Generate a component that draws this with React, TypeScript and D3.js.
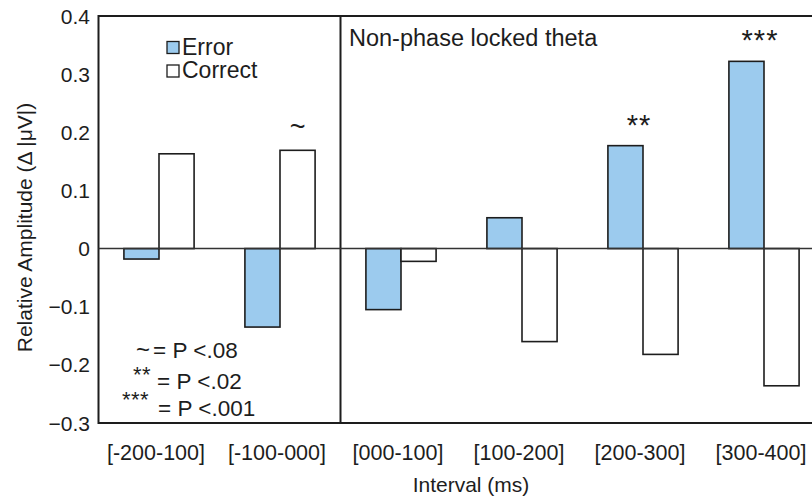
import React from 'react'
import * as d3 from 'd3'

const intervals = ['[-200-100]', '[-100-000]', '[000-100]', '[100-200]', '[200-300]', '[300-400]']
const errorVals = [-0.018, -0.135, -0.105, 0.053, 0.177, 0.322]
const correctVals = [0.163, 0.169, -0.022, -0.160, -0.182, -0.236]
const seriesNames = ['Error', 'Correct']
const sigMarks = ['', '~', '', '', '**', '***']
const yTicks = [0.4, 0.3, 0.2, 0.1, 0, -0.1, -0.2, -0.3]

const W = 812
const H = 501
const margin = { top: 16, left: 98.5, bottom: 78 }
const step = 121
const FONT = 'Liberation Sans, Arial, Helvetica, sans-serif'
const blue = '#9ccbee'
const ink = '#1d1d1d'

function App() {
    const x = d3.scaleBand<string>()
        .domain(intervals)
        .range([margin.left, margin.left + step * intervals.length])
        .paddingInner(0.42)
        .paddingOuter(0.21)
    const sub = d3.scaleBand<string>().domain(seriesNames).range([0, x.bandwidth()])
    const y = d3.scaleLinear().domain([-0.3, 0.4]).range([H - margin.bottom, margin.top])
    const fmt = (d: number) => d === 0 ? '0' : d3.format('.1f')(d)

    const right = margin.left + step * intervals.length
    const divider = margin.left + step * 2

    const bar = (v: number, name: string, cat: string, key: string) => (
        <rect key={key}
            x={(x(cat) ?? 0) + (sub(name) ?? 0)}
            y={Math.min(y(v), y(0))}
            width={sub.bandwidth()}
            height={Math.abs(y(v) - y(0))}
            fill={name === 'Error' ? blue : '#fff'}
            stroke={ink} strokeWidth={1.6} />
    )

    return (
        <svg width={W} height={H} style={{ position: 'absolute', left: 0, top: 0, background: '#fff' }} fontFamily={FONT}>
            {/* frame */}
            <rect x={margin.left} y={y(0.4)} width={right - margin.left} height={y(-0.3) - y(0.4)} fill="none" stroke={ink} strokeWidth={2} />
            <line x1={divider} x2={divider} y1={y(0.4)} y2={y(-0.3)} stroke={ink} strokeWidth={2} />

            {/* bars */}
            {intervals.map((c, i) => bar(errorVals[i], 'Error', c, 'e' + i))}
            {intervals.map((c, i) => bar(correctVals[i], 'Correct', c, 'c' + i))}
            <line x1={margin.left} x2={right} y1={y(0)} y2={y(0)} stroke="#333" strokeWidth={1.6} />

            {/* significance marks */}
            {intervals.map((c, i) => {
                if (!sigMarks[i]) return null
                const top = Math.max(errorVals[i], correctVals[i])
                const isTilde = sigMarks[i] === '~'
                const cx = (x(c) ?? 0) + (isTilde ? sub('Correct')! + sub.bandwidth() / 2 : x.bandwidth() / 2 - 4)
                return <text key={'s' + i}
                    x={cx}
                    y={isTilde ? y(top) - 14 : y(top) - 11}
                    textAnchor="middle" fontSize={isTilde ? 27 : 29} letterSpacing={isTilde ? 0 : 1} fill={ink}>{sigMarks[i]}</text>
            })}

            {/* y axis */}
            {yTicks.map(t => (
                <text key={t} x={90} y={y(t)} dy="0.36em" textAnchor="end" fontSize={21} fill={ink}>{fmt(t)}</text>
            ))}
            <text transform={`translate(32,${(y(0.4) + y(-0.3)) / 2 + 8}) rotate(-90)`} textAnchor="middle" fontSize={21} fill={ink}>
                Relative Amplitude (Δ |μV|)
            </text>

            {/* x axis */}
            {intervals.map(c => (
                <text key={c} x={(x(c) ?? 0) + x.bandwidth() / 2 - 3} y={460} textAnchor="middle" fontSize={21.5} fill={ink}>{c}</text>
            ))}
            <text x={471} y={492} textAnchor="middle" fontSize={21} fill={ink}>Interval (ms)</text>

            {/* panel title */}
            <text x={349} y={46} fontSize={23.5} fill={ink}>Non-phase locked theta</text>

            {/* legend */}
            {seriesNames.map((n, i) => (
                <g key={n} transform={`translate(167,${41.5 + i * 23.5})`}>
                    <rect x={0} y={0} width={12} height={12} fill={n === 'Error' ? blue : '#fff'} stroke={ink} strokeWidth={1.3} />
                    <text x={15} y={13} fontSize={23} fill={ink}>{n}</text>
                </g>
            ))}

            {/* p-value key */}
            <g fill={ink} fontSize={22.5}>
                <text x={136} y={358} fontSize={24}>~</text>
                <text x={153} y={358}>= P &lt;.08</text>
                <text x={133} y={382} fontSize={22} letterSpacing={0.5}>**</text>
                <text x={157} y={389}>= P &lt;.02</text>
                <text x={122} y={407} fontSize={22} letterSpacing={0.5}>***</text>
                <text x={158} y={416}>= P &lt;.001</text>
            </g>
        </svg>
    )
}

export default App
